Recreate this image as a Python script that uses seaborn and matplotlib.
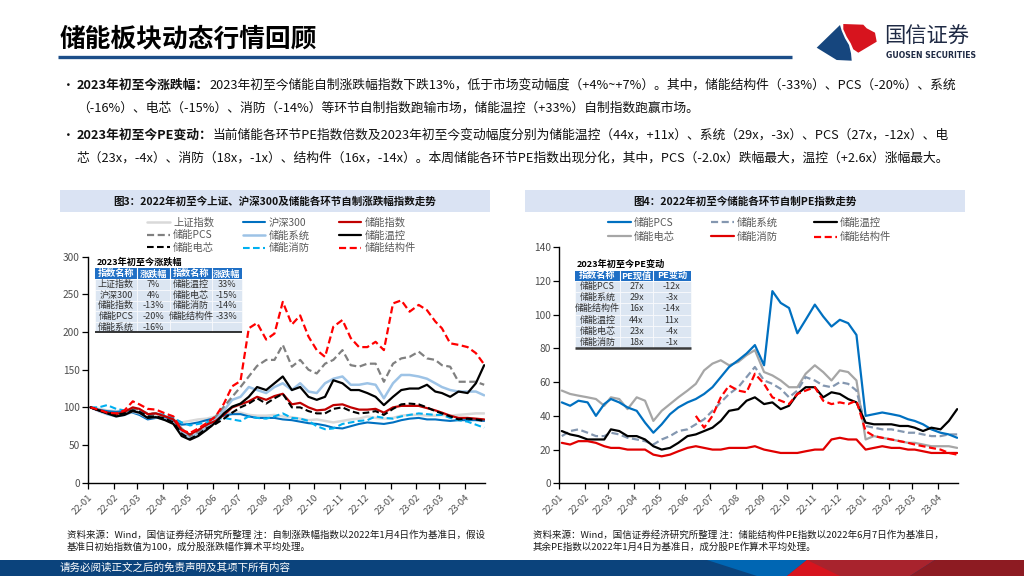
import numpy as np
import pandas as pd
import matplotlib
matplotlib.use('Agg')
import matplotlib.pyplot as plt
from matplotlib.patches import Rectangle, Polygon
import seaborn as sns

sns.set_theme(style='white')
plt.rcParams['font.family'] = ['Noto Sans CJK SC', 'DejaVu Sans']
plt.rcParams['axes.unicode_minus'] = False

W, H = 1024, 576

# ---------------- data ----------------
dates = pd.to_datetime([f"{2022 + m // 12}-{m % 12 + 1:02d}-{d:02d}"
                        for m in range(16) for d in (4, 14, 24)])
month_starts = pd.date_range('2022-01-01', '2023-04-01', freq='MS')
month_labels = ['22-01', '22-02', '22-03', '22-04', '22-05', '22-06', '22-07', '22-08',
                '22-09', '22-10', '22-11', '22-12', '23-01', '23-02', '23-03', '23-04']

# Figure 3: price indices (base 100)
sh = [100,98,96,95,96,94,92,86,89,88,84,80,82,84,85,88,91,93,93,90,89,89,90,88,87,85,83,84,82,80,82,84,85,88,86,85,86,89,90,90,89,89,90,89,90,91,92,92]
hs300 = [100,97,95,94,95,93,90,84,86,86,82,77,78,80,83,86,89,91,91,88,86,86,86,84,83,81,79,78,76,73,72,75,78,80,79,78,80,83,85,86,84,84,83,82,83,83,83,82]
es_idx = [100,96,93,91,94,100,98,91,92,88,84,70,64,70,77,82,90,100,104,108,114,110,115,118,104,106,100,96,97,103,104,100,97,97,98,93,100,102,102,102,99,96,93,89,86,86,85,84]
pcs_l = [100,96,93,90,93,98,97,92,92,88,84,72,62,68,76,88,101,114,127,141,155,163,163,183,154,163,150,145,158,163,176,156,154,158,158,134,158,165,167,174,165,163,156,154,134,134,134,130]
sys_l = [100,95,91,88,90,94,92,86,87,84,80,68,60,66,73,85,96,110,114,127,123,119,127,132,123,132,121,119,132,138,141,130,130,132,130,112,132,143,143,141,138,132,127,123,121,121,121,116]
tc_l = [100,96,92,88,90,95,93,86,87,83,78,62,57,62,70,80,92,101,105,114,127,123,132,141,123,127,114,110,114,136,132,123,123,119,114,103,114,123,125,125,130,121,119,114,121,119,132,156]
cell_l = [100,96,93,90,92,96,94,88,88,85,80,65,58,64,72,78,85,93,100,105,112,105,112,118,100,100,95,92,92,98,100,95,92,93,95,90,98,104,105,104,100,95,92,88,84,85,84,82]
fire_l = [100,100,103,98,96,97,95,90,92,90,86,80,76,78,80,84,86,84,82,88,86,85,88,92,86,85,82,75,71,72,78,80,82,83,88,86,85,88,90,92,91,90,90,86,83,81,77,73]
struct_l = [100,97,93,92,96,108,104,98,97,92,88,70,66,72,79,88,105,128,135,205,212,190,198,240,210,222,194,176,167,207,216,192,180,180,187,176,238,242,227,236,229,214,205,185,183,180,172,157]

# Figure 4: PE indices
pcs_pe = [48,46,49,48,40,47,50,48,45,43,36,30,35,41,45,48,50,53,57,63,69,73,77,82,70,114,107,104,89,97,106,99,93,97,95,88,40,41,42,41,40,38,37,35,32,30,29,27]
sys_pe = [28,31,32,30,28,28,30,29,27,26,25,23,26,28,31,32,35,38,43,48,53,57,63,69,61,59,56,51,55,63,61,58,57,60,59,55,34,33,32,32,31,30,30,29,28,28,29,29]
tc_pe = [31,29,28,26,26,26,32,31,28,28,26,22,20,21,24,28,29,31,33,37,43,44,49,51,47,48,44,46,53,57,57,51,54,53,50,48,36,35,35,35,34,34,33,31,33,32,37,44]
cell_pe = [55,53,52,51,50,46,51,50,44,51,49,37,43,47,51,55,59,67,71,73,70,72,76,79,66,64,61,57,57,65,70,66,61,67,66,61,26,28,27,26,25,24,24,23,22,22,22,21]
fire_pe = [24,23,25,25,24,22,21,21,20,20,20,17,16,17,19,21,22,21,20,20,21,21,21,22,20,19,18,18,18,19,20,20,26,27,26,26,20,21,22,21,21,20,20,19,18,18,18,18]
struct_pe = [40,33,40,51,58,55,54,65,59,51,49,47,53,55,57,49,47,48,47,49,31,28,27,26,25,24,23,22,21,20,18,17]
struct_pe_start = 16  # index into dates where the structural-parts PE series begins

# tables
t3_name1 = ['上证指数', '沪深300', '储能指数', '储能PCS', '储能系统']
t3_chg1 = ['7%', '4%', '-13%', '-20%', '-16%']
t3_name2 = ['储能温控', '储能电芯', '储能消防', '储能结构件', '']
t3_chg2 = ['33%', '-15%', '-14%', '-33%', '']
t4_name = ['储能PCS', '储能系统', '储能结构件', '储能温控', '储能电芯', '储能消防']
t4_now = ['27x', '29x', '16x', '44x', '23x', '18x']
t4_chg = ['-12x', '-3x', '-14x', '11x', '-4x', '-1x']

# ---------------- figure ----------------
fig = plt.figure(figsize=(W / 100, H / 100), dpi=100)
fig.patch.set_facecolor('white')

def fax(x0, y0, x1, y1, **kw):
    return fig.add_axes([x0 / W, 1 - y1 / H, (x1 - x0) / W, (y1 - y0) / H], **kw)

ax1 = fax(88, 256.7, 485, 482.7)
ax2 = fax(559.3, 247.3, 958, 483.3)

DASH = (0, (3.2, 1.6))

def draw(ax, x, y, color, ls, lw=1.5, z=2):
    sns.lineplot(x=x, y=y, color=color, linestyle=ls, linewidth=lw, ax=ax, zorder=z)
    return ax.lines[-1]

h = {}
h['上证指数'] = draw(ax1, dates, sh, '#d9d9d9', '-', 1.8)
h['沪深300'] = draw(ax1, dates, hs300, '#0070c0', '-')
h['储能消防'] = draw(ax1, dates, fire_l, '#00b0f0', DASH)
h['储能系统'] = draw(ax1, dates, sys_l, '#9dc3e6', '-', 1.8)
h['储能PCS'] = draw(ax1, dates, pcs_l, '#808080', DASH, 1.6)
h['储能指数'] = draw(ax1, dates, es_idx, '#c00000', '-', 1.6)
h['储能电芯'] = draw(ax1, dates, cell_l, '#000000', DASH)
h['储能温控'] = draw(ax1, dates, tc_l, '#000000', '-', 1.6)
h['储能结构件'] = draw(ax1, dates, struct_l, '#ff0000', DASH, 1.6)

g = {}
g['储能电芯'] = draw(ax2, dates, cell_pe, '#a6a6a6', '-', 1.6)
g['储能系统'] = draw(ax2, dates, sys_pe, '#8497b0', DASH, 1.6)
g['储能PCS'] = draw(ax2, dates, pcs_pe, '#0070c0', '-', 1.6)
g['储能温控'] = draw(ax2, dates, tc_pe, '#000000', '-', 1.6)
g['储能消防'] = draw(ax2, dates, fire_pe, '#e00000', '-', 1.6)
g['储能结构件'] = draw(ax2, dates[struct_pe_start:], struct_pe, '#ff0000', DASH, 1.6)

xl = (pd.Timestamp('2022-01-01'), pd.Timestamp('2023-04-25'))
for ax, ymax, step in ((ax1, 300, 50), (ax2, 140, 20)):
    ax.set_xlim(*xl)
    ax.set_ylim(0, ymax)
    ax.set_yticks(np.arange(0, ymax + 1, step))
    ax.set_xticks(month_starts)
    ax.set_xticklabels(month_labels, rotation=45, ha='right', rotation_mode='anchor')
    ax.set_xlabel('')
    ax.set_ylabel('')
    ax.grid(False)
    ax.set_facecolor('none')
    sns.despine(ax=ax)
    for s in ('left', 'bottom'):
        ax.spines[s].set_color('black')
        ax.spines[s].set_linewidth(1.0)
    ax.tick_params(axis='both', which='major', direction='out', length=4, width=0.9,
                   color='black', labelcolor='#4d4d4d', labelsize=7.3, left=True, bottom=True, pad=2)
    ax.tick_params(axis='x', labelsize=6.8, pad=3)

# legends
order3 = ['上证指数', '储能PCS', '储能电芯', '沪深300', '储能系统', '储能消防', '储能指数', '储能温控', '储能结构件']
leg1 = ax1.legend([h[k] for k in order3], order3, ncol=3, loc='upper left',
                  bbox_to_anchor=(147 / W, 1 - 217.5 / H), bbox_transform=fig.transFigure,
                  frameon=False, fontsize=7.4, handlelength=2.2, handletextpad=0.33,
                  columnspacing=2.8, labelspacing=0.25, borderpad=0, borderaxespad=0)
order4 = ['储能PCS', '储能电芯', '储能系统', '储能消防', '储能温控', '储能结构件']
leg2 = ax2.legend([g[k] for k in order4], order4, ncol=3, loc='upper left',
                  bbox_to_anchor=(608 / W, 1 - 217.5 / H), bbox_transform=fig.transFigure,
                  frameon=False, fontsize=7.4, handlelength=2.2, handletextpad=0.33,
                  columnspacing=3.5, labelspacing=0.42, borderpad=0, borderaxespad=0)
for lg in (leg1, leg2):
    for t in lg.get_texts():
        t.set_color('#595959')

# ---------------- overlay in pixel coordinates ----------------
ov = fig.add_axes([0, 0, 1, 1], zorder=10)
ov.set_xlim(0, W)
ov.set_ylim(H, 0)
ov.axis('off')
ov.patch.set_alpha(0)

renderer = fig.canvas.get_renderer()

# title + rule
ov.text(60, 39, '储能板块动态行情回顾', fontsize=18.5, fontweight='bold', color='#000000',
        va='center', ha='left')
ov.plot([58, 792], [57.3, 57.3], color='#1c4e89', lw=2.4, solid_capstyle='butt')

# logo
ov.add_patch(Polygon([(816.7, 47.7), (840, 25), (841.7, 30.7), (845, 38.3), (849, 45),
                      (851, 53.3), (851.7, 60.7), (836.7, 60)], closed=True,
                     facecolor='#16467e', edgecolor='none'))
ov.add_patch(Polygon([(843.3, 24), (863.3, 24.7), (866.7, 28.3), (875, 32.7), (876.7, 41.7),
                      (858.3, 52.7), (853.3, 49.3), (850.7, 43.3), (846.7, 36.7), (843.3, 29.3)],
                     closed=True, facecolor='#d7141e', edgecolor='none'))
ov.text(884, 37, '国信证券', fontsize=15.3, color='#1f2a44', va='center', ha='left')
ov.text(885.5, 55.2, 'GUOSEN SECURITIES', fontsize=5.6, color='#1f2a44', va='center', ha='left',
        family=['DejaVu Sans'], fontweight='bold')

# bullet text
TXT = '#111111'
lines = [
    (77, 85, [('2023年初至今涨跌幅：', 'bold'),
              ('2023年初至今储能自制涨跌幅指数下跌13%，低于市场变动幅度（+4%~+7%）。其中，储能结构件（-33%）、PCS（-20%）、系统', 'normal')]),
    (77, 108, [('（-16%）、电芯（-15%）、消防（-14%）等环节自制指数跑输市场，储能温控（+33%）自制指数跑赢市场。', 'normal')]),
    (77, 135, [('2023年初至今PE变动：', 'bold'),
               ('当前储能各环节PE指数倍数及2023年初至今变动幅度分别为储能温控（44x，+11x）、系统（29x，-3x）、PCS（27x，-12x）、电', 'normal')]),
    (77, 158, [('芯（23x，-4x）、消防（18x，-1x）、结构件（16x，-14x）。本周储能各环节PE指数出现分化，其中，PCS（-2.0x）跌幅最大，温控（+2.6x）涨幅最大。', 'normal')]),
]

def measure(parts, fs):
    wsum = 0
    for s, wt in parts:
        t = ov.text(0, 0, s, fontsize=fs, fontweight=wt)
        wsum += t.get_window_extent(renderer).width
        t.remove()
    return wsum

fs_b = 10 * (958 - 77) / measure(lines[0][2], 10)

def put(x, y, parts, fs, color=TXT):
    cx = x
    for s, wt in parts:
        t = ov.text(cx, y, s, fontsize=fs, fontweight=wt, color=color, va='center', ha='left')
        cx += t.get_window_extent(renderer).width

for x, y, parts in lines:
    put(x, y, parts, fs_b)
for y in (85, 135):
    ov.text(68, y, '•', fontsize=fs_b, color=TXT, va='center', ha='center')

# panel header bands
for x0, x1, title in ((60, 490, '图3：2022年初至今上证、沪深300及储能各环节自制涨跌幅指数走势'),
                      (525, 965, '图4：2022年初至今储能各环节自制PE指数走势')):
    ov.add_patch(Rectangle((x0, 190), x1 - x0, 22, facecolor='#dae3f3', edgecolor='none'))
    ov.text((x0 + x1) / 2, 201.5, title, fontsize=7.6, fontweight='bold', color='#111111',
            va='center', ha='center')

HDR = '#1f6fc5'
BODY = '#dce6f2'

def table(x_edges, y_top, hdr_h, row_h, headers, columns, title, title_xy, bottom_lw, bottom_c):
    ov.text(title_xy[0], title_xy[1], title, fontsize=6.6, fontweight='bold', color='#000000',
            va='center', ha='left')
    nrow = len(columns[0])
    ov.add_patch(Rectangle((x_edges[0], y_top), x_edges[-1] - x_edges[0], hdr_h,
                           facecolor=HDR, edgecolor='none'))
    for j, head in enumerate(headers):
        cx = (x_edges[j] + x_edges[j + 1]) / 2
        ov.text(cx, y_top + hdr_h / 2, head, fontsize=6.6, fontweight='bold', color='white',
                va='center', ha='center')
        if j > 0:
            ov.plot([x_edges[j], x_edges[j]], [y_top, y_top + hdr_h], color='white', lw=0.8)
    for i in range(nrow):
        y0 = y_top + hdr_h + i * row_h
        for j in range(len(headers)):
            ov.add_patch(Rectangle((x_edges[j], y0), x_edges[j + 1] - x_edges[j], row_h,
                                   facecolor=BODY, edgecolor='white', lw=0.4))
            cx = (x_edges[j] + x_edges[j + 1]) / 2
            ov.text(cx, y0 + row_h / 2, columns[j][i], fontsize=6.5, color='#333333',
                    va='center', ha='center')
    yb = y_top + hdr_h + nrow * row_h
    ov.plot([x_edges[0], x_edges[-1]], [yb, yb], color=bottom_c, lw=bottom_lw, solid_capstyle='butt')

table([95, 136.7, 170, 211.7, 241.7], 268.3, 11, 10.6,
      ['指数名称', '涨跌幅', '指数名称', '涨跌幅'], [t3_name1, t3_chg1, t3_name2, t3_chg2],
      '2023年初至今涨跌幅', (96.5, 261.5), 1.1, '#000000')
table([575, 620, 653, 690.7], 270.7, 10, 11.27,
      ['指数名称', 'PE现值', 'PE变动'], [t4_name, t4_now, t4_chg],
      '2023年初至今PE变动', (576.5, 264), 1.8, '#3a3a3a')

# footnotes
notes = [(67, ['资料来源：Wind，国信证券经济研究所整理 注：自制涨跌幅指数以2022年1月4日作为基准日，假设',
               '基准日初始指数值为100，成分股涨跌幅作算术平均处理。'], 487),
         (533, ['资料来源：Wind，国信证券经济研究所整理 注：储能结构件PE指数以2022年6月7日作为基准日，',
                '其余PE指数以2022年1月4日为基准日，成分股PE作算术平均处理。'], 932)]
fs_n = 7 * (487 - 67) / measure([(notes[0][1][0], 'normal')], 7)
for x, ls_, _ in notes:
    for k, s in enumerate(ls_):
        ov.text(x, 535.5 + 11.5 * k, s, fontsize=fs_n, color='#1a1a1a', va='center', ha='left')

# footer band
ov.add_patch(Rectangle((0, 560), W, 16, facecolor='#0b437c', edgecolor='none'))
ov.add_patch(Polygon([(707, 560), (807, 560), (787, 576), (757, 576)], closed=True,
                     facecolor='#0066b3', edgecolor='none'))
ov.add_patch(Polygon([(807, 560), (935, 560), (910, 576), (787, 576)], closed=True,
                     facecolor='#a8232d', edgecolor='none'))
ov.add_patch(Polygon([(807, 560), (787, 576), (840, 576)], closed=True,
                     facecolor='#d7141e', edgecolor='none'))
ov.add_patch(Polygon([(935, 560), (W, 560), (W, 576), (910, 576)], closed=True,
                     facecolor='#8d1b22', edgecolor='none'))
ov.text(60, 568, '请务必阅读正文之后的免责声明及其项下所有内容', fontsize=7.6, color='white',
        va='center', ha='left')

fig.savefig('out.png', dpi=100, facecolor='white')
